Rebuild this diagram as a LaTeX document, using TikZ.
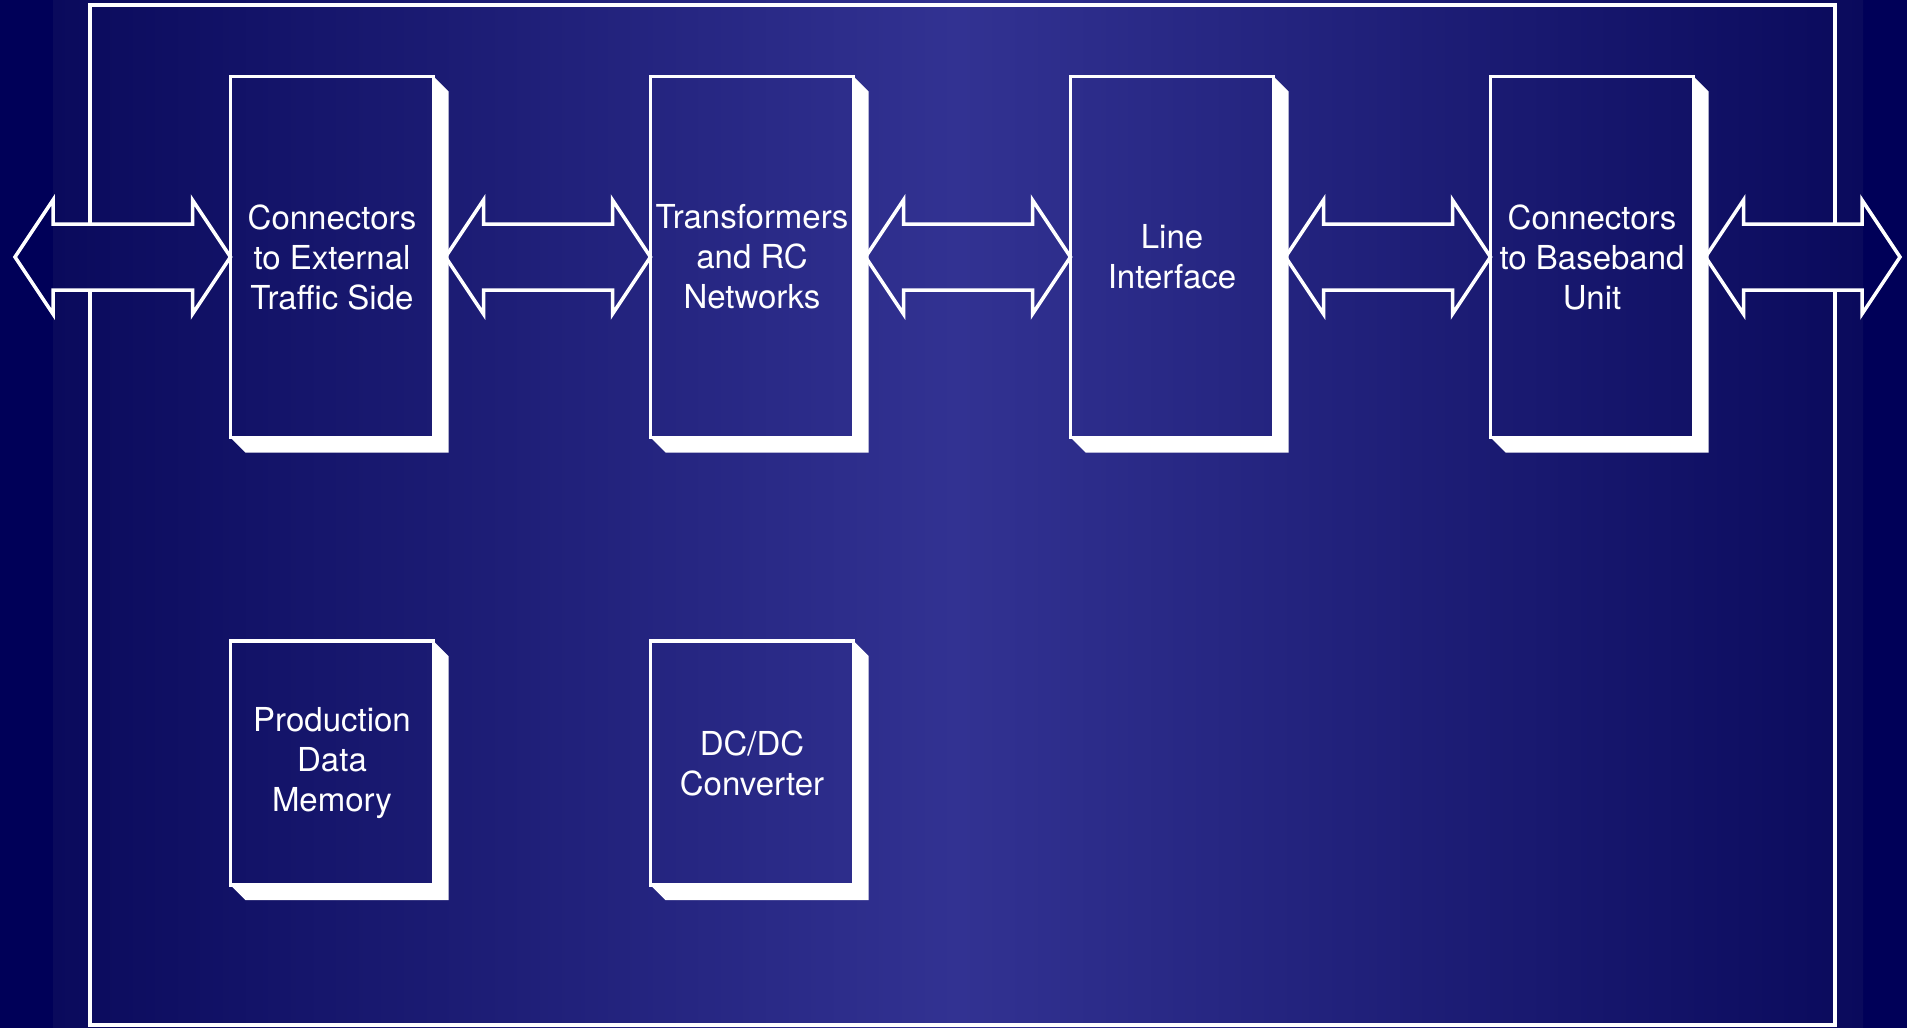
\documentclass[tikz,border=0pt]{standalone}
\usepackage{fontspec}
\setmainfont{TeX Gyre Heros}
\usetikzlibrary{calc}
\definecolor{bgouter}{RGB}{0,0,88}
\definecolor{bgedge}{RGB}{10,10,92}
\definecolor{bgmid}{RGB}{50,50,146}
\tikzset{
  blockbox/.style={draw=white, line width=3.5pt, inner sep=0pt, outer sep=0pt,
    minimum width=203pt, text=white, align=center,
    font=\fontsize{33}{40}\selectfont},
  tallbox/.style={blockbox, minimum height=361pt},
  shortbox/.style={blockbox, minimum height=244pt},
  arrowline/.style={draw=white, line width=3.5pt, line join=miter},
  frameline/.style={draw=white, line width=3.5pt},
  shadowfill/.style={fill=white}
}
\newcommand\blockarrow[2]{%
  \path[arrowline] (#1) -- ($(#1)+(38,-57)$) -- ($(#1)+(38,-33)$)
    -- ($(#2)+(-38,-33)$) -- ($(#2)+(-38,-57)$) -- (#2)
    -- ($(#2)+(-38,57)$) -- ($(#2)+(-38,33)$)
    -- ($(#1)+(38,33)$) -- ($(#1)+(38,57)$) -- cycle;}
\newcommand\boxshadow[1]{%
  \fill[shadowfill] (#1.north east) -- ([shift={(15,15)}]#1.north east)
    -- ([shift={(15,15)}]#1.south east) -- ([shift={(15,15)}]#1.south west)
    -- (#1.south west) -- (#1.south east) -- cycle;}
\begin{document}
\begin{tikzpicture}[x=1pt,y=-1pt]
\useasboundingbox (0,0) rectangle (1907,1028);
% background
\fill[bgouter] (0,0) rectangle (1907,1028);
\shade[left color=bgedge, right color=bgedge, middle color=bgmid] (53,0) rectangle (1863,1028);
% boxes
\node[tallbox] (b1) at (332,257) {Connectors\\to External\\Traffic Side};
\node[tallbox] (b2) at (752,257) {Transformers\\and RC\\Networks};
\node[tallbox] (b3) at (1172,257) {Line\\Interface};
\node[tallbox] (b4) at (1592,257) {Connectors\\to Baseband\\Unit};
\node[shortbox] (b5) at (332,763) {Production\\Data\\Memory};
\node[shortbox] (b6) at (752,763) {DC/DC\\Converter};
\boxshadow{b1}\boxshadow{b2}\boxshadow{b3}\boxshadow{b4}\boxshadow{b5}\boxshadow{b6}
% outer frame, interrupted by the two outer arrows
\draw[frameline] (90,224) -- (90,5) -- (1835,5) -- (1835,224);
\draw[frameline] (90,290) -- (90,1025) -- (1835,1025) -- (1835,290);
% arrow end points
\coordinate (lt) at (15,257);
\coordinate (rt) at (1900,257);
\coordinate (b1o) at ([xshift=12pt]b1.east);
\coordinate (b2o) at ([xshift=12pt]b2.east);
\coordinate (b3o) at ([xshift=12pt]b3.east);
\coordinate (b4o) at ([xshift=12pt]b4.east);
% arrows
\blockarrow{lt}{b1.west}
\blockarrow{b1o}{b2.west}
\blockarrow{b2o}{b3.west}
\blockarrow{b3o}{b4.west}
\blockarrow{b4o}{rt}
\end{tikzpicture}
\end{document}
